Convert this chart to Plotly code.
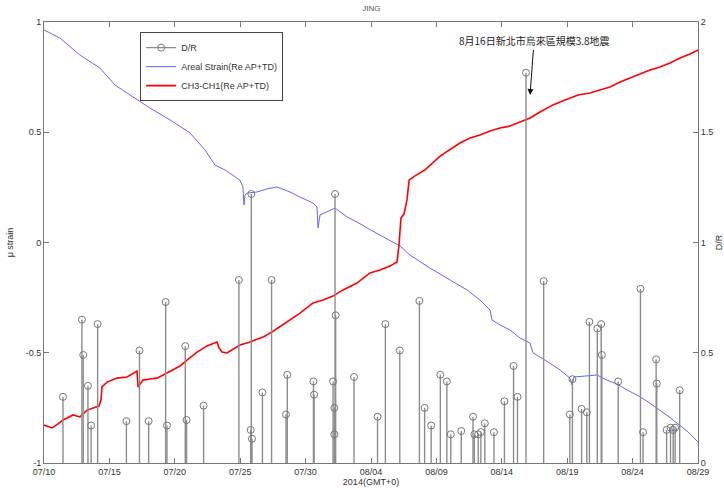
import pandas as pd
import plotly.graph_objects as go

START = pd.Timestamp("2014-07-10")

# D/R events: day offset from 2014-07-10, value (right axis)
dr_day = [1.45, 2.9, 3.0, 3.36, 3.6, 4.1, 6.3, 7.3, 8.0, 9.3, 9.4, 10.8, 10.9, 12.2,
          14.9, 15.8, 15.9, 15.85, 16.7, 17.4, 18.5, 18.6, 20.6, 20.65, 22.1, 22.2,
          22.2, 22.25, 22.3, 23.7, 25.5, 26.1, 27.2, 28.7, 29.1, 29.6, 30.3, 30.8,
          31.1, 31.9, 32.8, 32.9, 33.2, 33.4, 33.7, 34.4, 35.2, 35.9, 36.2, 36.85,
          38.2, 40.2, 40.4, 41.1, 41.5, 41.7, 42.3, 42.6, 42.65, 43.9, 45.6, 45.8,
          46.8, 46.85, 47.6, 47.9, 48.1, 48.25, 48.6]
dr_val = [0.30, 0.65, 0.49, 0.35, 0.17, 0.63, 0.19, 0.51, 0.19, 0.73, 0.17, 0.53, 0.195, 0.26,
          0.83, 0.15, 0.11, 1.22, 0.32, 0.83, 0.22, 0.40, 0.37, 0.31, 0.37, 0.25,
          0.13, 1.22, 0.67, 0.39, 0.21, 0.63, 0.51, 0.735, 0.25, 0.17, 0.40, 0.37,
          0.13, 0.145, 0.21, 0.13, 0.13, 0.14, 0.18, 0.14, 0.28, 0.44, 0.30, 1.77,
          0.825, 0.22, 0.38, 0.245, 0.23, 0.64, 0.61, 0.63, 0.49, 0.37, 0.79, 0.14,
          0.47, 0.36, 0.15, 0.16, 0.15, 0.16, 0.33]

# Areal Strain (Re AP+TD), left axis
as_day = [0, 1.22, 2.75, 4.28, 5.43, 6.57, 8.10, 9.63, 11.16, 12.31, 13.07, 13.84, 14.45,
          14.98, 15.21, 15.29, 15.37, 15.52, 16.28, 17.05, 17.81, 18.81, 19.57, 20.57,
          20.87, 20.95, 21.10, 21.71, 22.25, 23.17, 23.93, 24.69, 25.69, 26.45, 27.22,
          27.98, 28.75, 29.51, 30.28, 31.04, 32.34, 33.33, 34.10, 34.25, 34.86, 35.63,
          36.39, 37.16, 37.39, 38.30, 39.45, 40.21, 40.37, 40.52, 41.36, 42.28, 43.04,
          43.81, 44.57, 45.34, 46.18, 47.09, 47.71, 48.39, 49.24, 50.0]
as_val = [0.964, 0.927, 0.850, 0.791, 0.714, 0.669, 0.610, 0.556, 0.497, 0.420, 0.351, 0.329,
          0.306, 0.283, 0.252, 0.170, 0.215, 0.224, 0.229, 0.243, 0.252, 0.229, 0.206,
          0.179, 0.161, 0.066, 0.125, 0.143, 0.156, 0.116, 0.093, 0.066, 0.034, 0.011,
          -0.016, -0.057, -0.088, -0.116, -0.143, -0.170, -0.215, -0.261, -0.306, -0.351,
          -0.374, -0.397, -0.433, -0.456, -0.501, -0.533, -0.578, -0.615, -0.646, -0.610,
          -0.605, -0.601, -0.624, -0.642, -0.669, -0.692, -0.723, -0.760, -0.787, -0.819,
          -0.859, -0.905]

# CH3-CH1 (Re AP+TD), left axis
ch_day = [0, 0.61, 1.07, 1.45, 2.22, 2.75, 3.29, 3.75, 4.20, 4.36, 4.43, 4.82, 5.58, 6.35,
          6.80, 7.11, 7.19, 7.57, 8.10, 8.64, 9.40, 10.40, 10.93, 11.70, 12.46, 13.23,
          13.38, 13.61, 13.99, 14.98, 15.75, 16.74, 17.43, 18.58, 19.57, 20.57, 21.33,
          22.09, 22.86, 23.93, 24.92, 25.69, 26.45, 26.99, 27.14, 27.29, 27.52, 27.75,
          27.91, 28.36, 29.13, 30.28, 31.04, 31.80, 32.57, 33.33, 34.10, 34.86, 35.63,
          36.39, 37.16, 37.92, 38.91, 39.83, 40.83, 41.74, 42.51, 43.27, 44.04, 44.80,
          45.57, 46.33, 47.09, 47.86, 48.62, 49.39, 50.0]
ch_val = [-0.828, -0.841, -0.823, -0.805, -0.782, -0.791, -0.760, -0.751, -0.742, -0.714,
          -0.655, -0.633, -0.615, -0.610, -0.592, -0.583, -0.655, -0.624, -0.619, -0.615,
          -0.592, -0.560, -0.533, -0.497, -0.469, -0.451, -0.478, -0.497, -0.501, -0.465,
          -0.451, -0.429, -0.406, -0.361, -0.320, -0.274, -0.261, -0.243, -0.215, -0.184,
          -0.138, -0.125, -0.107, -0.088, -0.011, 0.111, 0.129, 0.193, 0.283, 0.302, 0.329,
          0.392, 0.420, 0.451, 0.474, 0.488, 0.506, 0.519, 0.528, 0.546, 0.565, 0.592,
          0.624, 0.646, 0.669, 0.678, 0.692, 0.705, 0.728, 0.746, 0.764, 0.782, 0.796,
          0.814, 0.837, 0.855, 0.873]

tick_days = [0, 5, 10, 15, 20, 25, 30, 35, 40, 45, 50]


def to_dt(days):
    return [START + pd.Timedelta(days=d) for d in days]


dr_t = to_dt(dr_day)
stem_x, stem_y = [], []
for t, v in zip(dr_t, dr_val):
    stem_x += [t, t, None]
    stem_y += [0, v, None]

FONT = "Liberation Sans, Arial, sans-serif"
fig = go.Figure()

fig.add_trace(go.Scatter(x=stem_x, y=stem_y, mode="lines", yaxis="y2",
                         line=dict(color="#8c8c8c", width=1.4), showlegend=False,
                         hoverinfo="skip"))
fig.add_trace(go.Scatter(x=dr_t, y=dr_val, mode="markers", yaxis="y2",
                         marker=dict(symbol="circle-open", size=7, color="#777777",
                                     line=dict(width=1)), showlegend=False))
fig.add_trace(go.Scatter(x=[None], y=[None], mode="lines+markers", name="D/R",
                         line=dict(color="#8c8c8c", width=1.4),
                         marker=dict(symbol="circle-open", size=7, color="#777777")))
fig.add_trace(go.Scatter(x=to_dt(as_day), y=as_val, mode="lines",
                         name="Areal Strain(Re AP+TD)",
                         line=dict(color="#6464ff", width=1)))
fig.add_trace(go.Scatter(x=to_dt(ch_day), y=ch_val, mode="lines",
                         name="CH3-CH1(Re AP+TD)",
                         line=dict(color="#ff0000", width=1.6)))

tick_t = to_dt(tick_days)
fig.update_layout(
    width=724, height=490,
    margin=dict(l=44, r=26, t=22, b=27),
    paper_bgcolor="white", plot_bgcolor="white",
    font=dict(family=FONT, size=9, color="#333"),
    title=dict(text="JING", x=0.513, xanchor="center", y=0.99, yanchor="top",
               font=dict(size=8, color="#555")),
    xaxis=dict(range=[tick_t[0], tick_t[-1]], tickvals=tick_t,
               ticktext=[t.strftime("%m/%d") for t in tick_t], automargin=False,
               ticks="inside", ticklen=5, tickcolor="#777", showgrid=False,
               showline=True, linecolor="#777", mirror="ticks", zeroline=False,
               title=dict(text="2014(GMT+0)", standoff=2, font=dict(size=9))),
    yaxis=dict(range=[-1, 1], tickvals=[-1, -0.5, 0, 0.5, 1], automargin=False,
               ticktext=["-1", "-0.5", "0", "0.5", "1"],
               ticks="inside", ticklen=5, tickcolor="#777", showgrid=False,
               showline=True, linecolor="#777", zeroline=False,
               title=dict(text="μ strain", standoff=10, font=dict(size=9))),
    yaxis2=dict(range=[0, 2], tickvals=[0, 0.5, 1, 1.5, 2], automargin=False,
                ticktext=["0", "0.5", "1", "1.5", "2"], overlaying="y", side="right",
                ticks="inside", ticklen=5, tickcolor="#777", showgrid=False,
                showline=True, linecolor="#777", zeroline=False,
                title=dict(text="D/R", standoff=4, font=dict(size=9))),
    legend=dict(x=0.147, y=0.977, xanchor="left", yanchor="top",
                bgcolor="white", bordercolor="#444", borderwidth=1,
                font=dict(size=9, color="#333"), tracegroupgap=0, itemwidth=30),
    showlegend=True,
)

fig.add_annotation(
    x=START + pd.Timedelta(days=37.16), y=0.669, xref="x", yref="y",
    text="8月16日新北市烏來區規模3.8地震", showarrow=True,
    arrowhead=2, arrowsize=1.2, arrowwidth=1, arrowcolor="#111",
    ax=4, ay=-54, font=dict(family="Noto Sans CJK TC, sans-serif", size=10, color="#222"),
)

fig.write_html("out.html", config={"displayModeBar": False},
               post_script="document.body.style.margin='0';document.body.style.overflow='hidden';")
